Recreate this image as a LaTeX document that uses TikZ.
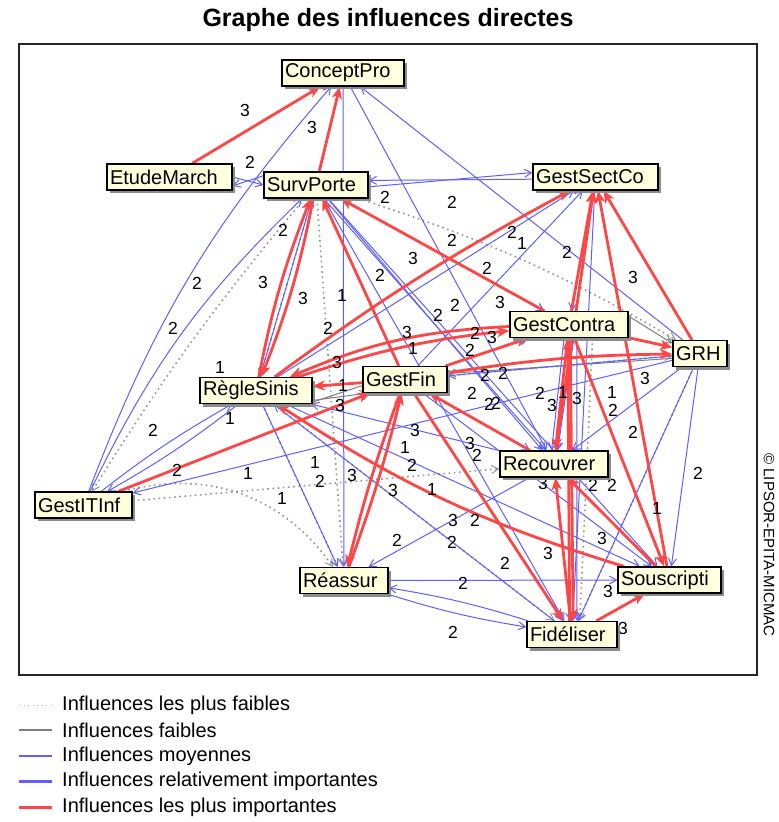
\documentclass[tikz,border=0pt]{standalone}
\usepackage{fontspec}
\setmainfont{Liberation Sans}
\usetikzlibrary{arrows.meta,shadows}
\definecolor{boxfill}{RGB}{255,255,222}
\definecolor{linkred}{RGB}{255,70,70}
\definecolor{linkblue}{RGB}{95,95,255}
\definecolor{linkgray}{RGB}{128,128,128}
\definecolor{dotgray}{RGB}{150,150,150}
\pgfdeclarelayer{edges}
\pgfdeclarelayer{labels}
\pgfsetlayers{edges,labels,main}

\begin{document}
\begin{tikzpicture}[x=1pt,y=-1pt,
  var/.style={draw=black,line width=1.2pt,fill=boxfill,align=left,text width=#1,
     inner xsep=3pt,inner ysep=0pt,minimum height=26pt,
     font=\fontsize{20}{22}\selectfont,
     drop shadow={shadow xshift=3pt,shadow yshift=-3pt,fill=black!45,opacity=1}},
  lab/.style={font=\fontsize{17.5}{18}\selectfont,inner sep=0pt},
  legtext/.style={font=\fontsize{20}{22}\selectfont,inner sep=0pt,anchor=west},
  pf/.style={draw=dotgray,line width=1.6pt,dash pattern=on 1.6pt off 3.6pt,
     -{Straight Barb[length=7pt,width=8pt,line width=1pt]}},
  fa/.style={draw=linkgray,line width=1pt,-{Straight Barb[length=7pt,width=8pt]}},
  mo/.style={draw=linkblue,line width=1pt,-{Straight Barb[length=7pt,width=8pt]}},
  pi/.style={draw=linkred,line width=2.8pt,-{Stealth[length=12pt,width=10pt,inset=3pt]}},
]
\useasboundingbox (0,0) rectangle (779,822);

% title and frame
\node[font=\bfseries\fontsize{25}{26}\selectfont,inner sep=0pt] (title) at (388,20) {Graphe des influences directes};
\draw[line width=1.3pt,black!85] (19,44) rectangle (757,675);
\node[rotate=-90,font=\fontsize{15}{16}\selectfont,inner sep=0pt] (copy) at (769,545) {© LIPSOR-EPITA-MICMAC};

% variables
\node[var=116pt] (CP)  at (343,73)    {ConceptPro};
\node[var=119pt] (EM)  at (169.5,177) {EtudeMarch};
\node[var=98pt]  (SP)  at (316,185)   {SurvPorte};
\node[var=119pt] (GSC) at (595.5,177) {GestSectCo};
\node[var=112pt] (GC)  at (569,324.5) {GestContra};
\node[var=48pt]  (GRH) at (700,353.5) {GRH};
\node[var=106pt] (RS)  at (256,390.5) {RègleSinis};
\node[var=78pt]  (GF)  at (405,379.5) {GestFin};
\node[var=102pt] (REC) at (554,464)   {Recouvrer};
\node[var=91pt]  (GIT) at (83.5,505)  {GestITInf};
\node[var=82pt]  (REA) at (344,580.5) {Réassur};
\node[var=97pt]  (SOU) at (669.5,580) {Souscripti};
\node[var=84pt]  (FID) at (572,634.5) {Fidéliser};

\begin{pgfonlayer}{edges}
% weakest influences
\draw[pf] (SP) to[bend right=4] (GIT);
\draw[pf] (SP) -- (RS);
\draw[pf] (SP) -- (REA);
\draw[pf] (SP) to[bend left=6] (GRH);
\draw[pf] (SP) -- (GC);
\draw[pf] (GIT) -- (GF);
\draw[pf] (GIT) -- (REC);
\draw[pf] (GIT) to[bend left=35] (REA);
\draw[pf] (RS) -- (REA);
\draw[pf] (RS) -- (FID);
\draw[pf] (GF) -- (FID);
\draw[pf] (GF) -- (GRH);
\draw[pf] (GRH) -- (FID);
\draw[pf] (GC.-30) -- (FID.60);
% weak influences
\draw[fa] (GC.8) -- (GRH.160);
\draw[fa] (GRH.190) -- (GF.8);
\draw[fa] (GF.188) -- (RS.-15);
\draw[fa] (RS.-25) -- (GF.200);
% medium influences
\draw[mo] (GRH) -- (CP);
\draw[mo] (CP) -- (REA);
\draw[mo] (CP) -- (REC);
\draw[mo] (EM.east) -- (SP.west);
\draw[mo] (SP.170) -- (EM.-8);
\draw[mo] (GSC.182) -- (SP.5);
\draw[mo] (SP.-2) -- (GSC.176);
\draw[mo] (GIT) to[bend left=10] (CP);
\draw[mo] (GIT) to[bend left=10] (SP);
\draw[mo] (RS) -- (SP);
\draw[mo] (SP) -- (GC);
\draw[mo] (SP) -- (REC);
\draw[mo] (SP.-60) -- (REC.120);
\draw[mo] (SP) -- (SOU);
\draw[mo] (SP) -- (FID);
\draw[mo] (GF) -- (GSC);
\draw[mo] (RS) -- (GSC);
\draw[mo] (GIT) to[bend left=4] (RS);
\draw[mo] (RS) to[bend left=4] (GIT);
\draw[mo] (GRH) -- (GIT);
\draw[mo] (RS) -- (REA);
\draw[mo] (REA) -- (SOU);
\draw[mo] (REA) to[bend right=4] (FID);
\draw[mo] (FID) to[bend right=4] (REA);
\draw[mo] (REC) -- (REA);
\draw[mo] (GRH) -- (SOU);
\draw[mo] (GRH) -- (REC);
\draw[mo] (GRH) -- (FID);
\draw[mo] (GRH) -- (GF);
\draw[mo] (GSC) -- (GC);
\draw[mo] (GSC) -- (REC);
\draw[mo] (GSC) -- (FID);
\draw[mo] (GC.-110) -- (REC.100);
\draw[mo] (GC.-70) -- (REC.75);
\draw[mo] (GC.-60) -- (FID.70);
\draw[mo] (GF) -- (REC);
\draw[mo] (GF) -- (FID);
\draw[mo] (GF) -- (GC);
\draw[mo] (GF) -- (SOU);
\draw[mo] (REC) -- (RS);
\draw[mo] (FID) -- (RS);
\draw[mo] (RS) -- (SOU);
\draw[mo] (REC) -- (FID);
% strongest influences
\draw[pi] (EM) -- (CP);
\draw[pi] (SP) -- (CP);
\draw[pi] (RS) to[bend left=5] (SP);
\draw[pi] (SP) to[bend left=5] (RS);
\draw[pi] (GF) -- (SP);
\draw[pi] (GC) -- (SP);
\draw[pi] (RS) to[bend left=4] (GSC);
\draw[pi] (GIT) -- (GF);
\draw[pi] (GF) -- (RS);
\draw[pi] (GC) to[bend right=10] (RS);
\draw[pi] (RS) to[bend left=6] (GC);
\draw[pi] (GF) -- (GC);
\draw[pi] (GC) -- (GRH);
\draw[pi] (GF) to[bend left=4] (GRH);
\draw[pi] (GF) to[bend right=3] (REA);
\draw[pi] (REA) to[bend right=3] (GF);
\draw[pi] (REC) -- (GF);
\draw[pi] (GF) -- (FID);
\draw[pi] (SOU) to[bend left=8] (RS);
\draw[pi] (GC) -- (REC);
\draw[pi] (FID) -- (REC);
\draw[pi] (FID.100) -- (GC.-95);
\draw[pi] (GC.-85) -- (FID.85);
\draw[pi] (SOU) -- (REC);
\draw[pi] (GC) -- (SOU);
\draw[pi] (GRH) -- (GSC);
\draw[pi] (GC) -- (GSC);
\draw[pi] (REC) -- (GSC);
\draw[pi] (SOU) -- (GSC);
\draw[pi] (FID) -- (SOU);
\end{pgfonlayer}

% intensity labels
\begin{pgfonlayer}{labels}
\foreach \x/\y/\t [count=\i] in {
  245/110/3, 312/127/3, 250/162/2, 385/197/2, 452/202/2, 283/230/2, 452/240/2,
  512/232/2, 522/243/1, 567/252/2, 487/268/2, 197/283/2, 263/282/3, 413/258/3,
  380/275/2, 303/298/3, 342/295/1, 500/302/3, 633/277/3, 455/305/2, 438/315/2,
  173/328/2, 328/328/2, 407/332/3, 475/333/2, 492/337/3, 470/350/2, 413/348/1,
  337/362/3, 343/385/1, 340/405/3, 220/367/1, 230/418/1, 153/430/2, 177/470/2,
  248/473/1, 315/462/1, 320/481/2, 352/475/3, 282/498/1, 393/490/3, 415/430/3,
  405/447/1, 412/465/2, 432/489/1, 470/443/3, 477/455/2, 485/375/2, 503/373/2,
  472/393/2, 489/404/2, 496/403/2, 540/393/2, 563/392/1, 552/405/3, 577/398/3,
  612/392/1, 613/410/2, 645/378/3, 633/432/2, 698/473/2, 543/483/3, 593/485/2,
  612/485/2, 657/508/1, 453/520/3, 475/520/2, 397/540/2, 452/542/2, 548/553/3,
  602/538/3, 505/563/2, 463/583/2, 608/591/3, 453/632/2, 623/628/3}
  \node[lab] (lab\i) at (\x,\y) {\t};
\end{pgfonlayer}

% legend
\coordinate (k1a) at (19,705); \coordinate (k1b) at (52,705);
\coordinate (k2a) at (19,730); \coordinate (k2b) at (52,730);
\coordinate (k3a) at (19,756); \coordinate (k3b) at (52,756);
\coordinate (k4a) at (19,781); \coordinate (k4b) at (52,781);
\coordinate (k5a) at (19,807); \coordinate (k5b) at (52,807);
\draw[dotgray!70,line width=1pt,dash pattern=on 1pt off 3.5pt] (k1a) -- (k1b);
\draw[linkgray,line width=1.3pt] (k2a) -- (k2b);
\draw[linkblue,line width=1.3pt] (k3a) -- (k3b);
\draw[linkblue,line width=3pt] (k4a) -- (k4b);
\draw[linkred,line width=3pt] (k5a) -- (k5b);
\node[legtext] (k1) at (62,705) {Influences les plus faibles};
\node[legtext] (k2) at (62,730) {Influences faibles};
\node[legtext] (k3) at (62,756) {Influences moyennes};
\node[legtext] (k4) at (62,781) {Influences relativement importantes};
\node[legtext] (k5) at (62,807) {Influences les plus importantes};
\end{tikzpicture}
\end{document}
